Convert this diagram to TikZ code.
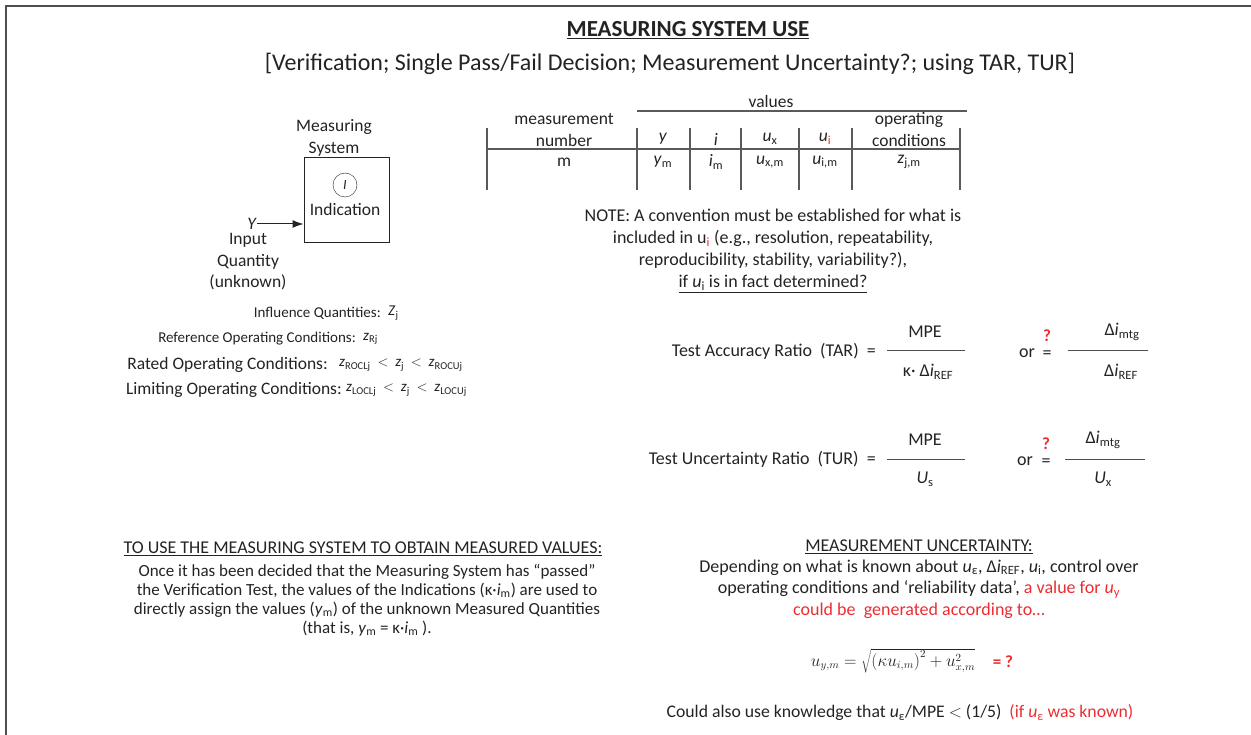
\documentclass[tikz,border=0pt]{standalone}
\usepackage{fontspec}
\setmainfont{Carlito}
\usetikzlibrary{arrows.meta}
\definecolor{ink}{RGB}{35,35,35}
\definecolor{warnred}{RGB}{235,45,50}
\newcommand{\sub}[1]{\textsubscript{#1}}
\begin{document}
\begin{tikzpicture}[x=1pt, y=-1pt,
	every node/.style={inner sep=0pt, text=ink},
	body/.style={font=\fontsize{18}{21.5}\selectfont},
	smalltxt/.style={font=\fontsize{17.5}{21.5}\selectfont},
	tinytxt/.style={font=\fontsize{15}{18}\selectfont},
	tabtxt/.style={font=\fontsize{17.5}{22}\selectfont},
	tabline/.style={draw=ink!75, line width=1.2pt},
	fracline/.style={draw=ink!80, line width=1pt},
	hot/.style={text=warnred}]
	\useasboundingbox (0,0) rectangle (1251,735);
	\draw[draw=ink!80, line width=2pt] (1251,6) -- (6,6) -- (6,735);
	% title
	\node[font=\bfseries\fontsize{23}{26}\selectfont] (title) at (688,30) {\underline{MEASURING SYSTEM USE}};
	\node[font=\fontsize{24}{28}\selectfont] (subtitle) at (670,64) {[Verification; Single Pass/Fail Decision; Measurement Uncertainty?; using TAR, TUR]};
	% measuring system
	\node[smalltxt, align=center] (msyslbl) at (334,138) {Measuring\\System};
	\node[draw=ink, line width=1pt, minimum width=85, minimum height=85] (msys) at (346.5,200.5) {};
	\node[draw=ink, circle, minimum size=24, font=\fontsize{14}{16}\selectfont\itshape] (ind) at (345,185) {I};
	\node[smalltxt] (indlbl) at (345,209) {Indication};
	\node[smalltxt] (Yin) at (252,224) {\textit{Y}};
	\draw[-{Latex[length=11pt,width=8pt]}, line width=1pt, draw=ink] (Yin) -- (msys.west |- Yin);
	\node[smalltxt, align=center] (inq) at (248,262) {Input\\Quantity\\(unknown)};
	% influence quantities
	\node[tinytxt, anchor=east] (iq) at (381,313) {Influence Quantities:};
	\node[tinytxt, anchor=west] (iqv) at (388,313) {\textit{Z}\sub{j}};
	\node[tinytxt, anchor=east] (roc) at (356,339) {Reference Operating Conditions:};
	\node[tinytxt, anchor=west] (rocv) at (363,339) {\textit{z}\sub{Rj}};
	\node[smalltxt, anchor=east] (rated) at (328,365) {Rated Operating Conditions:};
	\node[tinytxt, anchor=west] (ratedv) at (339,365) {\textit{z}\sub{ROCLj} \ $<$ \ \textit{z}\sub{j} \ $<$ \ \textit{z}\sub{ROCUj}};
	\node[smalltxt, anchor=east] (lim) at (342,390) {Limiting Operating Conditions:};
	\node[tinytxt, anchor=west] (limv) at (346,390) {\textit{z}\sub{LOCLj} \ $<$ \ \textit{z}\sub{j} \ $<$ \ \textit{z}\sub{LOCUj}};
	% table
	\draw[tabline] (637,111) -- (967,111);
	\draw[tabline] (487,149) -- (960,149);
	\foreach \cx in {487,637,690,741,799,852,960}
		\draw[tabline] (\cx,128) -- (\cx,190);
	\node[tabtxt] (values) at (771,101) {values};
	\node[tabtxt, align=center] (mnum) at (564,130) {measurement\\number};
	\node[tabtxt, align=center] (opc) at (909,130) {operating\\conditions};
	\node[tabtxt] (hy) at (663,139) {\textit{y}};
	\node[tabtxt] (hi) at (716,139) {\textit{i}};
	\node[tabtxt] (hux) at (770,139) {\textit{u}\sub{x}};
	\node[tabtxt] (hui) at (825,139) {\textit{u}\sub{\color{warnred}i}};
	\node[tabtxt] (rm) at (564,162) {m};
	\node[tabtxt] (rym) at (663,162) {\textit{y}\sub{m}};
	\node[tabtxt] (rim) at (716,162) {\textit{i}\sub{m}};
	\node[tabtxt] (rux) at (770,162) {\textit{u}\sub{x,m}};
	\node[tabtxt] (rui) at (825,162) {\textit{u}\sub{i,m}};
	\node[tabtxt] (rz) at (909,162) {\textit{z}\sub{j,m}};
	% note
	\node[body, align=center, font=\fontsize{18}{22}\selectfont] (note) at (773,251) {NOTE: A convention must be established for what is\\
		included in u\sub{\color{warnred}i} (e.g., resolution, repeatability,\\
		reproducibility, stability, variability?),\\
		\underline{if \textit{u}\sub{i} is in fact determined?}};
	% TAR
	\node[body, anchor=east] (tar) at (876,351) {Test Accuracy Ratio \ (TAR) \ =};
	\draw[fracline] (887,351) -- (965,351);
	\node[body] (tarn) at (925,332) {MPE};
	\node[body] (tard) at (928,372) {κ· Δ\textit{i}\sub{REF}};
	\node[body] (taror) at (1027,353) {or};
	\node[body, hot, font=\bfseries\fontsize{17}{19}\selectfont] (tarq) at (1047,336) {?};
	\node[body] (tareq) at (1047,355) {=};
	\draw[fracline] (1068,351) -- (1148,351);
	\node[body] (tarn2) at (1122,332) {Δ\textit{i}\sub{mtg}};
	\node[body] (tard2) at (1121,372) {Δ\textit{i}\sub{REF}};
	% TUR
	\node[body, anchor=east] (tur) at (876,459) {Test Uncertainty Ratio \ (TUR) \ =};
	\draw[fracline] (887,459) -- (965,459);
	\node[body] (turn) at (925,440) {MPE};
	\node[body] (turd) at (925,479) {\textit{U}\sub{s}};
	\node[body] (turor) at (1025,461) {or};
	\node[body, hot, font=\bfseries\fontsize{17}{19}\selectfont] (turq) at (1046,444) {?};
	\node[body] (tureq) at (1046,463) {=};
	\draw[fracline] (1065,459) -- (1145,459);
	\node[body] (turn2) at (1103,440) {Δ\textit{i}\sub{mtg}};
	\node[body] (turd2) at (1103,479) {\textit{U}\sub{x}};
	% using the measuring system
	\node[body] (usehead) at (363,549) {\underline{TO USE THE MEASURING SYSTEM TO OBTAIN MEASURED VALUES:}};
	\node[body, align=center, font=\fontsize{17}{19}\selectfont] (usetext) at (367,600) {Once it has been decided that the Measuring System has “passed”\\
		the Verification Test, the values of the Indications (κ·\textit{i}\sub{m}) are used to\\
		directly assign the values (\textit{y}\sub{m}) of the unknown Measured Quantities\\
		(that is, \textit{y}\sub{m} = κ·\textit{i}\sub{m} ).};
	% measurement uncertainty
	\node[body] (muhead) at (919,547) {\underline{MEASUREMENT UNCERTAINTY:}};
	\node[body, align=center] (mutext) at (919,589) {Depending on what is known about \textit{u}\sub{ε}, Δ\textit{i}\sub{REF}, \textit{u}\sub{i}, control over\\
		operating conditions and ‘reliability data’, \textcolor{warnred}{a value for \textit{u}\sub{y}}\\
		\textcolor{warnred}{could be \ generated according to…}};
	\node[font=\fontsize{16}{19}\selectfont] (muform) at (893,661) {$u_{y,m} = \sqrt{\left(\kappa u_{i,m}\right)^2 + u_{x,m}^2}$};
	\node[body, hot, font=\bfseries\fontsize{17}{20}\selectfont] (muq) at (1003,662) {= ?};
	\node[body, font=\fontsize{17.7}{21}\selectfont] (mulast) at (900,713) {Could also use knowledge that \textit{u}\sub{ε}/MPE $<$ (1/5) \ \textcolor{warnred}{(if \textit{u}\sub{ε} was known)}};
\end{tikzpicture}
\end{document}
